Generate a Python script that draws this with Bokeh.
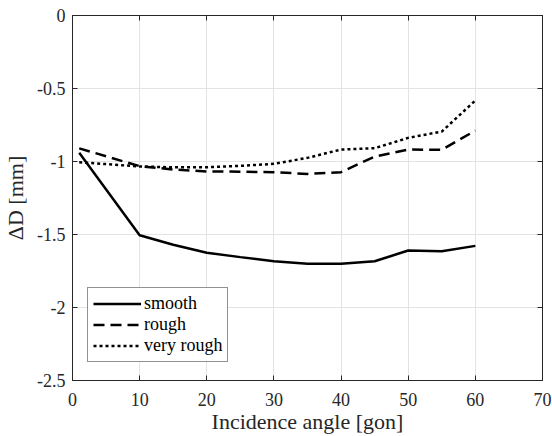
from bokeh.plotting import figure
from bokeh.models import LinearAxis, Range1d, FixedTicker, Legend, LegendItem
from bokeh.embed import file_html
from bokeh.resources import INLINE

angle = [1, 10, 15, 20, 25, 30, 35, 40, 45, 50, 55, 60]
smooth = [-0.94, -1.505, -1.57, -1.625, -1.655, -1.683, -1.70, -1.70, -1.683, -1.61, -1.615, -1.578]
rough = [-0.91, -1.032, -1.055, -1.068, -1.07, -1.073, -1.085, -1.073, -0.966, -0.918, -0.92, -0.788]
very_rough = [-1.005, -1.034, -1.04, -1.039, -1.03, -1.016, -0.975, -0.918, -0.909, -0.838, -0.795, -0.582]

x_ticks = [0, 10, 20, 30, 40, 50, 60, 70]
y_ticks = [-2.5, -2, -1.5, -1, -0.5, 0]
x_label = "Incidence angle [gon]"
y_label = "ΔD [mm]"
names = ["smooth", "rough", "very rough"]

FONT = "Liberation Serif"
FRAME = "#262626"
GRID = "#e3e3e3"

p = figure(width=552, height=436, output_backend="svg", toolbar_location=None,
           x_range=Range1d(0, 70), y_range=Range1d(-2.5, 0),
           min_border_left=72, min_border_right=10, min_border_top=15, min_border_bottom=56)
p.outline_line_color = FRAME
p.outline_line_width = 1
p.background_fill_color = "white"
p.border_fill_color = "white"

for ax in p.xaxis:
    ax.ticker = FixedTicker(ticks=x_ticks)
    ax.axis_label = x_label
for ax in p.yaxis:
    ax.ticker = FixedTicker(ticks=y_ticks)
    ax.axis_label = y_label
for ax in p.xaxis + p.yaxis:
    ax.major_label_text_font = FONT
    ax.major_label_text_font_size = "18px"
    ax.major_label_text_font_style = "normal"
    ax.major_label_text_color = "#262626"
    ax.axis_label_text_font = FONT
    ax.axis_label_text_font_size = "22px"
    ax.axis_label_text_font_style = "normal"
    ax.axis_label_text_color = "#262626"
    ax.axis_line_color = FRAME
    ax.major_tick_line_color = FRAME
    ax.major_tick_in = 5
    ax.major_tick_out = 0
    ax.minor_tick_line_color = None
p.xaxis.major_label_standoff = 12
p.xaxis.axis_label_standoff = 0
p.yaxis.major_label_standoff = 7
p.yaxis.axis_label_standoff = 6
p.yaxis.major_label_overrides = {-2.5: "-2.5", -2: "-2", -1.5: "-1.5", -1: "-1", -0.5: "-0.5", 0: "0"}

top = LinearAxis(ticker=FixedTicker(ticks=x_ticks),
                 major_label_overrides={t: "" for t in x_ticks},
                 axis_line_color=FRAME, major_tick_line_color=FRAME, major_tick_in=5,
                 major_tick_out=0, minor_tick_line_color=None, major_label_standoff=0)
right = LinearAxis(ticker=FixedTicker(ticks=y_ticks),
                   major_label_overrides={t: "" for t in y_ticks},
                   axis_line_color=FRAME, major_tick_line_color=FRAME, major_tick_in=5,
                   major_tick_out=0, minor_tick_line_color=None, major_label_standoff=0)
p.add_layout(top, "above")
p.add_layout(right, "right")

p.xgrid.ticker = FixedTicker(ticks=x_ticks)
p.ygrid.ticker = FixedTicker(ticks=y_ticks)
p.xgrid.grid_line_color = GRID
p.ygrid.grid_line_color = GRID

r1 = p.line(angle, smooth, line_color="black", line_width=2.5)
r2 = p.line(angle, rough, line_color="black", line_width=2.5, line_dash="11 6")
r3 = p.line(angle, very_rough, line_color="black", line_width=2.5, line_dash="3 3")

legend = Legend(items=[LegendItem(label=names[0], renderers=[r1]),
                       LegendItem(label=names[1], renderers=[r2]),
                       LegendItem(label=names[2], renderers=[r3])],
                location=(15, 18), padding=5, margin=0, spacing=0,
                glyph_width=48, glyph_height=21, label_height=21, label_standoff=3,
                label_text_font=FONT, label_text_font_size="18px",
                label_text_font_style="normal",
                label_text_color="black",
                border_line_color=FRAME, border_line_width=1,
                background_fill_color="white", background_fill_alpha=1)
p.add_layout(legend, "center")

open("out.html", "w").write(file_html(p, INLINE))
